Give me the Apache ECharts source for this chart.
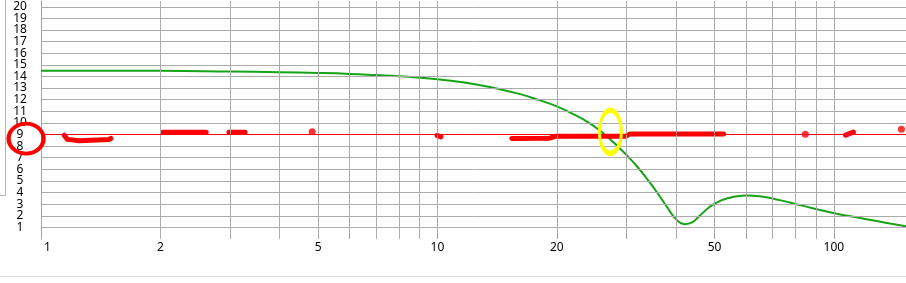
<!DOCTYPE html>
<html>
<head>
<meta charset="utf-8">
<script src="https://cdn.jsdelivr.net/npm/echarts@6/dist/echarts.min.js"></script>
<style>
html,body{margin:0;padding:0;background:#fff;}
#c{width:906px;height:283px;}
</style>
</head>
<body>
<div id="c"></div>
<script>
// ---- data ----
const xLabels = [1, 2, 5, 10, 20, 50, 100];
const xGrid = [2, 3, 4, 5, 6, 7, 8, 9, 10, 20, 30, 40, 50, 60, 70, 80, 90, 100];
const yGrid = [1, 2, 3, 4, 5, 6, 7, 8, 9, 10, 11, 12, 13, 14, 15, 16, 17, 18, 19, 20];
const greenX = [1, 2, 3, 4, 5, 6, 7, 8, 10, 12, 14, 16, 18, 20, 22, 24, 26, 28, 30, 32, 34, 36, 38, 40, 42, 44, 46, 50, 55, 60, 65, 73, 82, 99, 118, 135, 152];
const greenY = [14.5, 14.49, 14.43, 14.37, 14.3, 14.22, 14.12, 14.02, 13.77, 13.42, 12.98, 12.52, 11.98, 11.42, 10.75, 10.05, 9.2, 8.22, 7.23, 6.18, 5.05, 3.9, 2.72, 1.7, 1.28, 1.45, 2.05, 3.05, 3.58, 3.75, 3.69, 3.35, 2.92, 2.26, 1.77, 1.40, 1.1];
const threshold = 9;
// hand-drawn red strokes
const strokeA = [[1.144, 8.94], [1.166, 8.58], [1.248, 8.46], [1.486, 8.58], [1.5, 8.66]];
const strokeB = [[2.03, 9.19], [2.61, 9.19]];
const strokeC = [[2.98, 9.19], [3.27, 9.19]];
const strokeD = [[9.98, 8.93], [10.2, 8.8]];
const strokeE = [[15.4, 8.66], [19.2, 8.68], [19.8, 8.84], [29.8, 8.86], [30.6, 9.05], [52.7, 9.05]];
const strokeF = [[107, 8.95], [112, 9.2]];
const redDots = [[4.83, 9.23], [84.7, 9.03], [148, 9.46]];
const yellowMark = [[27.3, 9.23]];
const redCircle = [[0.917, 8.65]];

const FONT = 'Noto Sans';
const chart = echarts.init(document.getElementById('c'), null, {renderer: 'canvas'});

const strokes = [strokeA, strokeB, strokeC, strokeD, strokeE, strokeF];
const series = [
  {
    type: 'line', data: [], z: 1, silent: true,
    markLine: {
      silent: true, symbol: ['none', 'none'], animation: false,
      label: {show: false},
      lineStyle: {color: '#ababab', width: 1, type: 'solid'},
      data: xGrid.map(v => ({xAxis: v})).concat(yGrid.map(v => ({yAxis: v})))
    }
  },
  {
    type: 'line', data: [], z: 2, silent: true,
    markLine: {
      silent: true, symbol: ['none', 'none'], animation: false,
      label: {show: false},
      lineStyle: {color: '#ff0000', width: 1, type: 'solid'},
      data: [{yAxis: threshold}]
    }
  },
  {
    type: 'line', z: 3, silent: true, showSymbol: false, smooth: 0.5,
    lineStyle: {color: '#17a317', width: 2},
    data: greenX.map((x, i) => [x, greenY[i]])
  }
];
strokes.forEach(s => series.push({
  type: 'line', z: 4, silent: true, showSymbol: false,
  lineStyle: {color: '#ff0000', width: 5, cap: 'round', join: 'round'},
  data: s
}));
series.push({
  type: 'scatter', z: 4, silent: true, symbolSize: 7,
  itemStyle: {color: '#ff0000'}, data: redDots
});
series.push({
  type: 'scatter', z: 5, silent: true, symbol: 'circle', symbolSize: [22, 43],
  itemStyle: {color: 'rgba(0,0,0,0)', borderColor: '#ffff00', borderWidth: 4, opacity: 1},
  data: yellowMark
});
series.push({
  type: 'scatter', z: 5, silent: true, clip: false, symbol: 'circle', symbolSize: [35, 30],
  itemStyle: {color: 'rgba(0,0,0,0)', borderColor: '#ff0000', borderWidth: 4, opacity: 1},
  data: redCircle
});

chart.setOption({
  animation: false,
  backgroundColor: '#ffffff',
  grid: {left: 41, right: 0, top: 1, height: 238, containLabel: false},
  xAxis: {
    type: 'log', logBase: 10, min: 1, max: 152,
    axisLine: {show: false}, axisTick: {show: false}, splitLine: {show: false},
    axisLabel: {
      customValues: xLabels, margin: 3, color: '#000', fontFamily: FONT, fontSize: 12,
      formatter: v => (Math.abs(v - 1) < 1e-9 ? '{p|1}' : String(Math.round(v))),
      rich: {p: {padding: [0, 0, 0, 13], fontFamily: FONT, fontSize: 12, color: '#000'}}
    }
  },
  yAxis: {
    type: 'value', min: 0, max: 20.5, interval: 1,
    axisLine: {show: true, lineStyle: {color: '#a0a0a0', width: 1}},
    axisTick: {show: false}, splitLine: {show: false},
    axisLabel: {
      margin: 21, align: 'center', color: '#000', fontFamily: FONT, fontSize: 12,
      formatter: v => (v >= 1 && v <= 20 && Number.isInteger(v) ? String(v) : '')
    }
  },
  graphic: [
    {type: 'line', silent: true, shape: {x1: 5.5, y1: 0, x2: 5.5, y2: 195.5}, style: {stroke: '#b4b4b4', lineWidth: 1}},
    {type: 'line', silent: true, shape: {x1: 0, y1: 195.5, x2: 5.5, y2: 195.5}, style: {stroke: '#b4b4b4', lineWidth: 1}},
    {type: 'line', silent: true, shape: {x1: 0, y1: 276.5, x2: 906, y2: 276.5}, style: {stroke: '#dcdcdc', lineWidth: 1}}
  ],
  series: series
});
</script>
</body>
</html>
